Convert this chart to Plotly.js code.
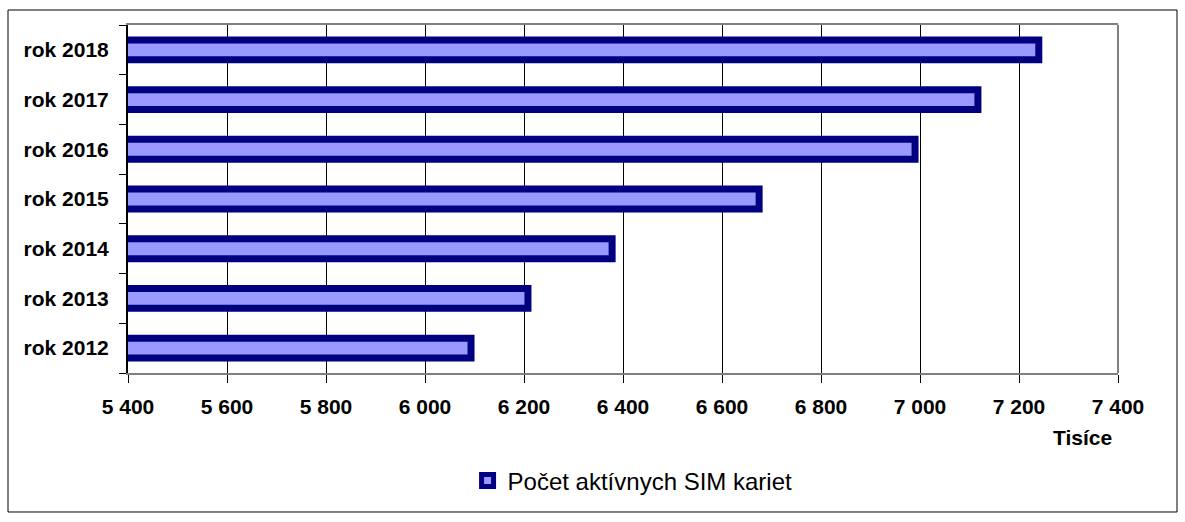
<!DOCTYPE html>
<html>
<head>
<meta charset="utf-8">
<script src="https://cdn.plot.ly/plotly-3.0.1.min.js"></script>
<style>
  html, body { margin: 0; padding: 0; background: #fff; }
  #chart { width: 1185px; height: 522px; }
</style>
</head>
<body>
<div id="chart"></div>
<script>
// Data (values in thousands)
const categories = ["rok 2012", "rok 2013", "rok 2014", "rok 2015", "rok 2016", "rok 2017", "rok 2018"];
const simCounts = [6093, 6208, 6378, 6675, 6990, 7117, 7240];
const seriesName = "Počet aktívnych SIM kariet";
const xAxisTitle = "Tisíce";
const xRange = [5400, 7400];
const xStep = 200;

const trace = {
  type: "bar",
  orientation: "h",
  y: categories,
  x: simCounts,
  name: seriesName,
  width: 0.4,
  marker: {
    color: "#9999FF",
    line: { color: "#000080", width: 7 }
  },
  showlegend: true,
  hoverinfo: "x+y"
};

const layout = {
  width: 1185,
  height: 522,
  margin: { l: 128, r: 67, t: 25, b: 149 },
  paper_bgcolor: "#ffffff",
  plot_bgcolor: "#ffffff",
  separators: ", ",
  font: { family: "Liberation Sans, Arial, sans-serif", color: "#000" },
  xaxis: {
    range: xRange,
    dtick: xStep,
    tick0: xRange[0],
    tickformat: ",d",
    showgrid: true,
    gridcolor: "#000000",
    gridwidth: 1,
    zeroline: false,
    showline: true,
    linecolor: "#808080",
    linewidth: 2,
    mirror: true,
    ticks: "outside",
    ticklen: 8,
    tickcolor: "#000",
    tickwidth: 1,
    ticklabelstandoff: 6,
    tickfont: { family: "Liberation Sans, Arial, sans-serif", size: 21, weight: "bold", color: "#000" },
    fixedrange: true
  },
  yaxis: {
    type: "category",
    categoryorder: "array",
    categoryarray: categories,
    showgrid: false,
    zeroline: false,
    showline: true,
    linecolor: "#000",
    linewidth: 2,
    ticks: "outside",
    tickson: "boundaries",
    ticklen: 7,
    tickcolor: "#000",
    tickwidth: 1,
    ticklabelstandoff: 13,
    tickfont: { family: "Liberation Sans, Arial, sans-serif", size: 21, weight: "bold", color: "#000" },
    fixedrange: true
  },
  showlegend: true,
  legend: {
    orientation: "h",
    x: 0.343,
    xanchor: "left",
    y: -0.31,
    yanchor: "middle",
    font: { family: "Liberation Sans, Arial, sans-serif", size: 24, color: "#000" },
    bgcolor: "rgba(0,0,0,0)"
  },
  annotations: [
    {
      text: xAxisTitle,
      xref: "paper", yref: "paper",
      x: 0.9646, y: -0.184,
      xanchor: "center", yanchor: "middle",
      showarrow: false,
      font: { family: "Liberation Sans, Arial, sans-serif", size: 21, weight: "bold", color: "#000" }
    }
  ],
  shapes: [
    {
      type: "line", xref: "paper", yref: "paper",
      x0: 1, x1: 1, y0: 0, y1: 1,
      line: { color: "#808080", width: 2 }
    },
    {
      type: "rect", xref: "paper", yref: "paper",
      x0: -0.1212, x1: 1.0596, y0: -0.3994, y1: 1.0431,
      line: { color: "#000", width: 1 },
      fillcolor: "rgba(0,0,0,0)",
      layer: "below"
    }
  ]
};

Plotly.newPlot("chart", [trace], layout, { displayModeBar: false, staticPlot: true });
</script>
</body>
</html>
